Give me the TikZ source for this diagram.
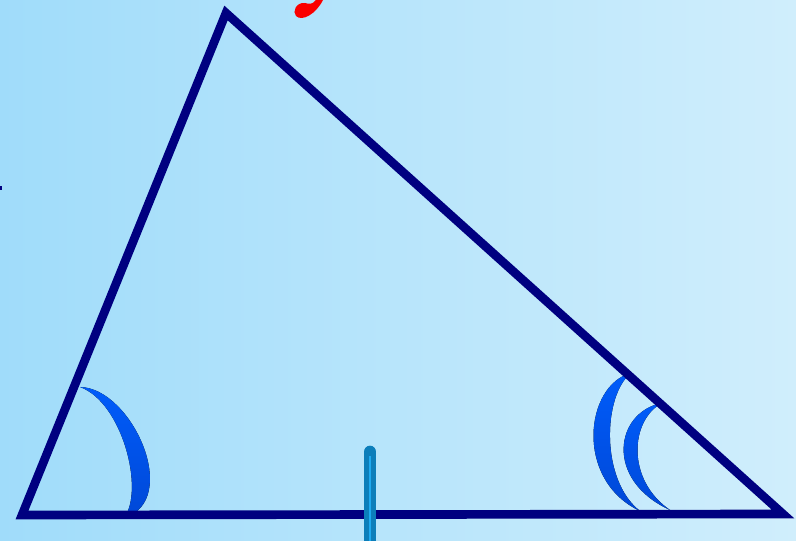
\documentclass[tikz,border=0pt]{standalone}
\usepackage{tikz}
\usetikzlibrary{calc}
\definecolor{bgleft}{RGB}{160,220,250}
\definecolor{bgright}{RGB}{208,238,252}
\definecolor{edge}{RGB}{0,0,128}
\definecolor{arcblue}{RGB}{0,92,250}
\definecolor{arcdark}{RGB}{0,72,215}
\definecolor{tickblue}{RGB}{12,126,186}
\definecolor{ticklight}{RGB}{30,170,240}
\definecolor{markred}{RGB}{250,0,0}

\begin{document}
\begin{tikzpicture}[
  x=0.75pt, y=-0.75pt,
  side/.style={draw=edge, line width=6.5pt, line join=miter},
  crescent/.style={top color=arcblue, bottom color=arcdark, draw=none},
  tickbar/.style={draw=tickblue, line width=9.5pt, line cap=round},
]
  % background
  \shade[left color=bgleft, right color=bgright] (0,0) rectangle (796,541);
  \useasboundingbox (0,0) rectangle (796,541);

  \coordinate (A) at (22,515);
  \coordinate (B) at (226,13);
  \coordinate (C) at (783,514);

  % cut-off marks at the borders
  \fill[markred] (316,0) .. controls (312,5) and (309,4) .. (305,3)
    .. controls (296,2) and (292,12) .. (296,16)
    .. controls (302,22) and (316,14) .. (323,0) -- cycle;
  \fill[edge] (0,186) rectangle (2,190);

  % angle marks
  \fill[crescent] (80,387) .. controls (132,388) and (182,500) .. (124,518)
    .. controls (145,490) and (122,402) .. cycle;
  \fill[crescent] (631,373) .. controls (585,385) and (574,480) .. (640,511)
    .. controls (600,480) and (603,395) .. cycle;
  \fill[crescent] (662,403) .. controls (615,412) and (604,480) .. (670,510)
    .. controls (626,480) and (630,420) .. cycle;

  \draw[side] (A) -- (B) -- (C) -- cycle;

  % equal-side tick
  \coordinate (T1) at (370,452);
  \coordinate (T2) at (370,548);
  \draw[tickbar] (T1) -- (T2);
  \draw[ticklight, line width=1.5pt] ($(T1)+(0,4)$) -- (T2);
\end{tikzpicture}
\end{document}
